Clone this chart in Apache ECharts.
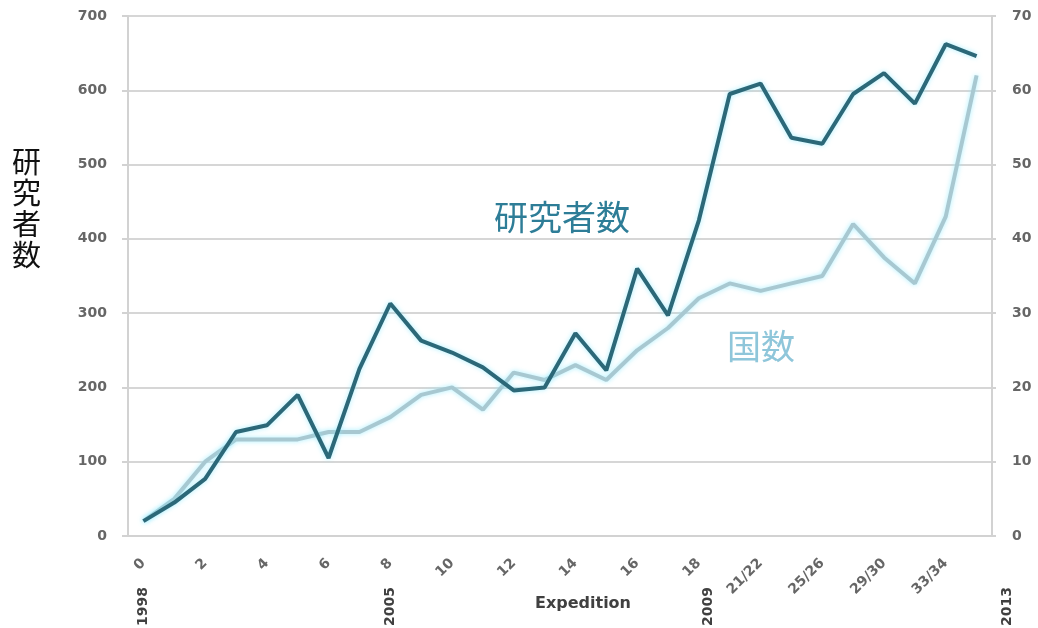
<!DOCTYPE html>
<html>
<head>
<meta charset="utf-8">
<script src="https://cdn.jsdelivr.net/npm/echarts@6/dist/echarts.min.js"></script>
<style>
  html, body { margin: 0; padding: 0; background: #ffffff; }
  #chart { width: 1038px; height: 628px; }
</style>
</head>
<body>
<div id="chart"></div>
<script>
// Expedition categories (single expeditions, then paired ones)
const expeditions = ['0', '1', '2', '3', '4', '5', '6', '7', '8', '9', '10', '11', '12', '13',
  '14', '15', '16', '17', '18', '19/20', '21/22', '23/24', '25/26', '27/28', '29/30',
  '31/32', '33/34', '35/36'];

// Number of researchers per expedition (left axis)
const researchers = [20, 45, 77, 140, 149, 190, 105, 225, 313, 263, 247, 227, 196, 200,
  273, 223, 360, 297, 425, 595, 609, 536, 528, 595, 623, 582, 662, 646];

// Number of countries per expedition (right axis)
const countries = [2, 5, 10, 13, 13, 13, 14, 14, 16, 19, 20, 17, 22, 21,
  23, 21, 25, 28, 32, 34, 33, 34, 35, 42, 37.5, 34, 43, 62];

// Calendar years marked under the expedition axis, with their place in category units
const yearLabels = ['1998', '2005', '2009', '2013'];
const yearAt = [0, 8, 18.3, 28];

const leftTicks = { min: 0, max: 700, interval: 100 };
const rightTicks = { min: 0, max: 70, interval: 10 };

const chart = echarts.init(document.getElementById('chart'), null, { renderer: 'canvas' });

const tickFont = { fontSize: 14, color: '#666666', fontFamily: '"DejaVu Sans", sans-serif', fontWeight: 'bold' };
const gridLine = { lineStyle: { color: '#d6d6d6', width: 2 } };
const axisLine = { show: true, lineStyle: { color: '#d2d2d2', width: 2 } };

chart.setOption({
  animation: false,
  backgroundColor: '#ffffff',
  grid: { left: 128, right: 46, top: 16, bottom: 92, containLabel: false },
  xAxis: {
    type: 'category',
    data: expeditions,
    boundaryGap: true,
    axisLine: axisLine,
    axisTick: { show: false },
    axisLabel: Object.assign({ interval: 1, rotate: 45, margin: 25 }, tickFont),
    name: 'Expedition',
    nameLocation: 'middle',
    nameGap: 60,
    nameMoveOverlap: false,
    nameTextStyle: {
      fontSize: 16, fontWeight: 'bold', color: '#404040',
      fontFamily: '"DejaVu Sans", sans-serif',
      padding: [0, 0, 0, 46]
    }
  },
  yAxis: [
    {
      type: 'value',
      min: leftTicks.min, max: leftTicks.max, interval: leftTicks.interval,
      axisLine: axisLine,
      axisTick: { show: true, length: 6, lineStyle: { color: '#d2d2d2', width: 2 } },
      axisLabel: Object.assign({ margin: 21 }, tickFont),
      splitLine: gridLine
    },
    {
      type: 'value',
      position: 'right',
      min: rightTicks.min, max: rightTicks.max, interval: rightTicks.interval,
      axisLine: axisLine,
      axisTick: { show: true, length: 4, lineStyle: { color: '#d2d2d2', width: 2 } },
      axisLabel: Object.assign({ margin: 20 }, tickFont),
      splitLine: { show: false }
    }
  ],
  series: [
    {
      name: '国数',
      type: 'line',
      yAxisIndex: 1,
      data: countries,
      symbol: 'none',
      lineStyle: { color: '#a8c8d1', width: 4, shadowColor: 'rgba(140,235,255,0.75)', shadowBlur: 5 },
      z: 2
    },
    {
      name: '研究者数',
      type: 'line',
      yAxisIndex: 0,
      data: researchers,
      symbol: 'none',
      lineStyle: { color: '#2c6878', width: 4, shadowColor: 'rgba(140,235,255,0.75)', shadowBlur: 5 },
      z: 3
    }
  ]
});

// Year markers, vertical text placed under the matching expedition
function yearGraphics() {
  const first = chart.convertToPixel({ xAxisIndex: 0 }, 0);
  const second = chart.convertToPixel({ xAxisIndex: 0 }, 1);
  const step = second - first;
  return yearLabels.map((label, i) => ({
    type: 'text',
    x: first + step * yearAt[i],
    y: 626,
    rotation: Math.PI / 2,
    style: {
      text: label,
      fill: '#404040',
      font: 'bold 14px "DejaVu Sans", sans-serif',
      align: 'left',
      verticalAlign: 'middle'
    }
  }));
}

chart.setOption({
  graphic: [
    {
      type: 'text',
      left: 12,
      top: 146,
      style: {
        text: '研\n究\n者\n数',
        fill: '#111111',
        font: '29px "Noto Sans CJK JP", sans-serif',
        lineHeight: 31
      }
    },
    {
      type: 'text',
      left: 494,
      top: 200,
      style: {
        text: '研究者数',
        fill: '#2e7d97',
        font: '34px "Noto Sans CJK JP", sans-serif'
      }
    },
    {
      type: 'text',
      left: 727,
      top: 329,
      style: {
        text: '国数',
        fill: '#8fc6da',
        font: '34px "Noto Sans CJK JP", sans-serif'
      }
    }
  ].concat(yearGraphics())
});
</script>
</body>
</html>
